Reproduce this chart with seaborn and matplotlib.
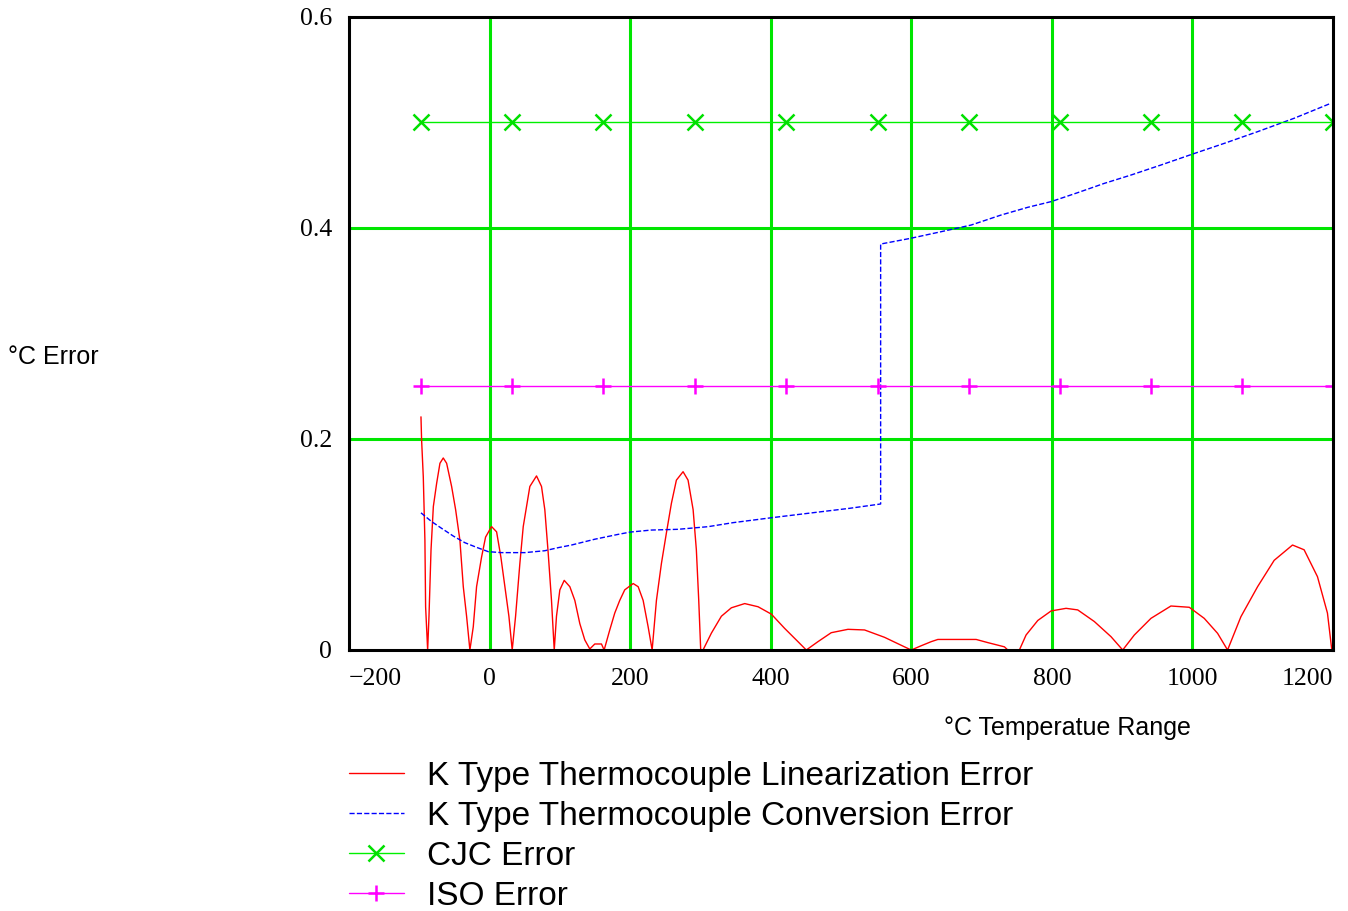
import matplotlib
matplotlib.use("Agg")
import matplotlib.pyplot as plt
import numpy as np
import pandas as pd
import seaborn as sns

# ---------------- data ----------------
lin_x = [-97.6, -96.7, -94.3, -92.0, -91.0, -88.1,
         -86.2, -83.3, -80.0, -75.3, -70.6, -65.9, -61.1, -54.0, -48.3, -42.2, -37.4, -32.7, -28.0,
         -23.2, -18.5, -11.4, -5.7, 2.8, 10.0, 16.1, 21.8, 27.5, 32.2,
         37.0, 43.1, 47.9, 52.6, 57.3, 66.8, 73.9, 78.6, 83.4, 88.1, 92.0,
         95.2, 100.0, 106.2, 114.2, 121.3, 128.4, 135.5, 142.6, 149.7, 159.2, 163.0,
         171.0, 178.1, 185.2, 192.3, 204.3, 211.4, 218.5, 225.6, 231.3,
         237.4, 244.5, 251.6, 258.7, 265.8, 275.3, 282.4, 289.6, 294.2, 297.6, 300.4,
         303.7, 315.6, 329.8, 344.0, 363.0, 382.0, 400.9, 419.8, 438.8, 450.6,
         467.2, 486.1, 509.9, 533.5, 562.0, 590.3, 599.9,
         614.0, 628.3, 637.8, 666.2, 692.3, 708.9, 732.5, 737.3, 753.8,
         763.3, 780.0, 798.9, 820.2, 836.8, 860.4, 884.2, 900.8,
         917.3, 941.0, 969.4, 995.5, 1016.8, 1035.8, 1050.0,
         1069.0, 1092.7, 1116.3, 1142.4, 1158.9, 1177.9, 1192.1, 1198.3]
lin_y = [0.221, 0.199, 0.164, 0.104, 0.041, 0.0,
         0.032, 0.095, 0.136, 0.158, 0.177, 0.182, 0.177, 0.155, 0.133, 0.104, 0.060, 0.032, 0.0,
         0.022, 0.060, 0.088, 0.107, 0.117, 0.112, 0.088, 0.060, 0.032, 0.0,
         0.032, 0.082, 0.117, 0.136, 0.155, 0.165, 0.155, 0.133, 0.092, 0.047, 0.0,
         0.032, 0.057, 0.066, 0.060, 0.047, 0.025, 0.0095, 0.001, 0.0057, 0.0057, 0.0,
         0.019, 0.035, 0.047, 0.057, 0.063, 0.060, 0.047, 0.022, 0.0,
         0.047, 0.082, 0.111, 0.139, 0.161, 0.169, 0.161, 0.133, 0.095, 0.047, 0.0,
         0.0, 0.016, 0.032, 0.040, 0.044, 0.041, 0.034, 0.0205, 0.0079, 0.0,
         0.0079, 0.0164, 0.0196, 0.019, 0.012, 0.003, 0.0,
         0.004, 0.0079, 0.010, 0.010, 0.010, 0.007, 0.003, 0.0, 0.0,
         0.0142, 0.028, 0.037, 0.0395, 0.038, 0.027, 0.0126, 0.0,
         0.0142, 0.030, 0.0417, 0.0405, 0.030, 0.0158, 0.0,
         0.0316, 0.060, 0.085, 0.0995, 0.095, 0.0695, 0.035, 0.0]

conv_x = [-97.6, -82.4, -68.2, -51.6, -35.1, -18.5, -1.8, 17.0, 50.2, 78.6, 97.6,
          116.6, 149.7, 182.9, 200.4, 230.3, 268.2, 310.9, 346.4, 401.4, 464.8, 512.2, 556.4,
          556.4, 598.9, 642.5, 685.1, 727.8, 765.7, 798.9, 836.8, 874.6, 912.6, 955.2,
          1000.3, 1045.2, 1092.7, 1144.7, 1196.9]
conv_y = [0.130, 0.1217, 0.1153, 0.108, 0.1017, 0.0973, 0.0932, 0.0923, 0.0923, 0.0941, 0.097,
          0.0995, 0.105, 0.1096, 0.1118, 0.1137, 0.1144, 0.1169, 0.1207, 0.1254, 0.1305, 0.1343, 0.1384,
          0.3848, 0.3902, 0.3965, 0.4028, 0.4123, 0.4196, 0.425, 0.4335, 0.4423, 0.4502, 0.4597,
          0.4701, 0.4802, 0.4913, 0.504, 0.5182]

mark_x = [-98, 32, 162, 292, 422, 552, 682, 811, 941, 1071, 1200]
cjc_y = [0.5] * len(mark_x)
iso_y = [0.25] * len(mark_x)

series_names = ["K Type Thermocouple Linearization Error",
                "K Type Thermocouple Conversion Error",
                "CJC Error",
                "ISO Error"]

x_ticks = [-200, 0, 200, 400, 600, 800, 1000, 1200]
x_tick_labels = ["\u2212200", "0", "200", "400", "600", "800", "1000", "1200"]
y_ticks = [0, 0.2, 0.4, 0.6]
y_tick_labels = ["0", "0.2", "0.4", "0.6"]

# ---------------- plot ----------------
sns.set_style("white")
plt.rcParams["font.family"] = ["Liberation Sans", "DejaVu Sans"]
plt.rcParams["text.color"] = "black"
plt.rcParams["axes.labelcolor"] = "black"
plt.rcParams["xtick.color"] = "black"
plt.rcParams["ytick.color"] = "black"
plt.rcParams["legend.labelcolor"] = "black"

W, H = 1348, 911
fig = plt.figure(figsize=(W / 100, H / 100), dpi=100)
ax = fig.add_axes([349 / W, 1 - 650 / H, (1333 - 349) / W, (650 - 17) / H])

grid_green = "#00E600"
for xv in [0, 200, 400, 600, 800, 1000]:
    ax.axvline(xv, color=grid_green, lw=2.2, zorder=0)
for yv in [0.2, 0.4]:
    ax.axhline(yv, color=grid_green, lw=2.2, zorder=0)

df_lin = pd.DataFrame({"x": lin_x, "y": lin_y})
df_conv = pd.DataFrame({"x": conv_x, "y": conv_y})
df_cjc = pd.DataFrame({"x": mark_x, "y": cjc_y})
df_iso = pd.DataFrame({"x": mark_x, "y": iso_y})

sns.lineplot(data=df_lin, x="x", y="y", ax=ax, color="#FF0000", lw=1.0,
             estimator=None, sort=False, label=series_names[0])
sns.lineplot(data=df_conv, x="x", y="y", ax=ax, color="#0000FF", lw=1.0,
             linestyle="--", dashes=(5.5, 3.5), estimator=None, sort=False,
             label=series_names[1])
sns.lineplot(data=df_cjc, x="x", y="y", ax=ax, color="#00F000", lw=1.0,
             marker="x", markersize=11, markeredgewidth=1.8, markeredgecolor="#00E000",
             estimator=None, sort=False, label=series_names[2])
sns.lineplot(data=df_iso, x="x", y="y", ax=ax, color="#FF00FF", lw=1.0,
             marker="+", markersize=12, markeredgewidth=1.8, markeredgecolor="#FF00FF",
             estimator=None, sort=False, label=series_names[3])

ax.set_xlim(-200, 1200)
ax.set_ylim(0, 0.6)
ax.set_xticks(x_ticks)
ax.set_xticklabels(x_tick_labels, fontfamily="Liberation Serif", fontsize=18.5, color="black")
ax.set_yticks(y_ticks)
ax.set_yticklabels(y_tick_labels, fontfamily="Liberation Serif", fontsize=18.5, color="black")
ax.tick_params(axis="x", length=0, pad=13)
ax.tick_params(axis="y", length=0, pad=12)
xl = ax.get_xticklabels()
xl[0].set_ha("left")
xl[-1].set_ha("right")

for sp in ax.spines.values():
    sp.set_color("black")
    sp.set_linewidth(2.2)
    sp.set_visible(True)

ax.set_ylabel("\u00b0C Error", rotation=0, ha="left", va="center", fontsize=18, color="black")
ax.yaxis.set_label_coords((8 - 349) / 984, (650 - 357) / 633)
ax.set_xlabel("\u00b0C Temperatue Range", ha="left", va="center", fontsize=18, color="black")
ax.xaxis.set_label_coords((944 - 349) / 984, (650 - 728) / 633)

handles, labels = ax.get_legend_handles_labels()
leg = ax.legend(handles, labels, loc="upper left",
                bbox_to_anchor=(349 / W, 1 - 761 / H), bbox_transform=fig.transFigure,
                frameon=False, fontsize=24, handlelength=1.65, handletextpad=0.68,
                labelspacing=0.27, borderpad=0, borderaxespad=0)
for t in leg.get_texts():
    t.set_color("black")

fig.savefig("out.png", dpi=100, facecolor="white")
